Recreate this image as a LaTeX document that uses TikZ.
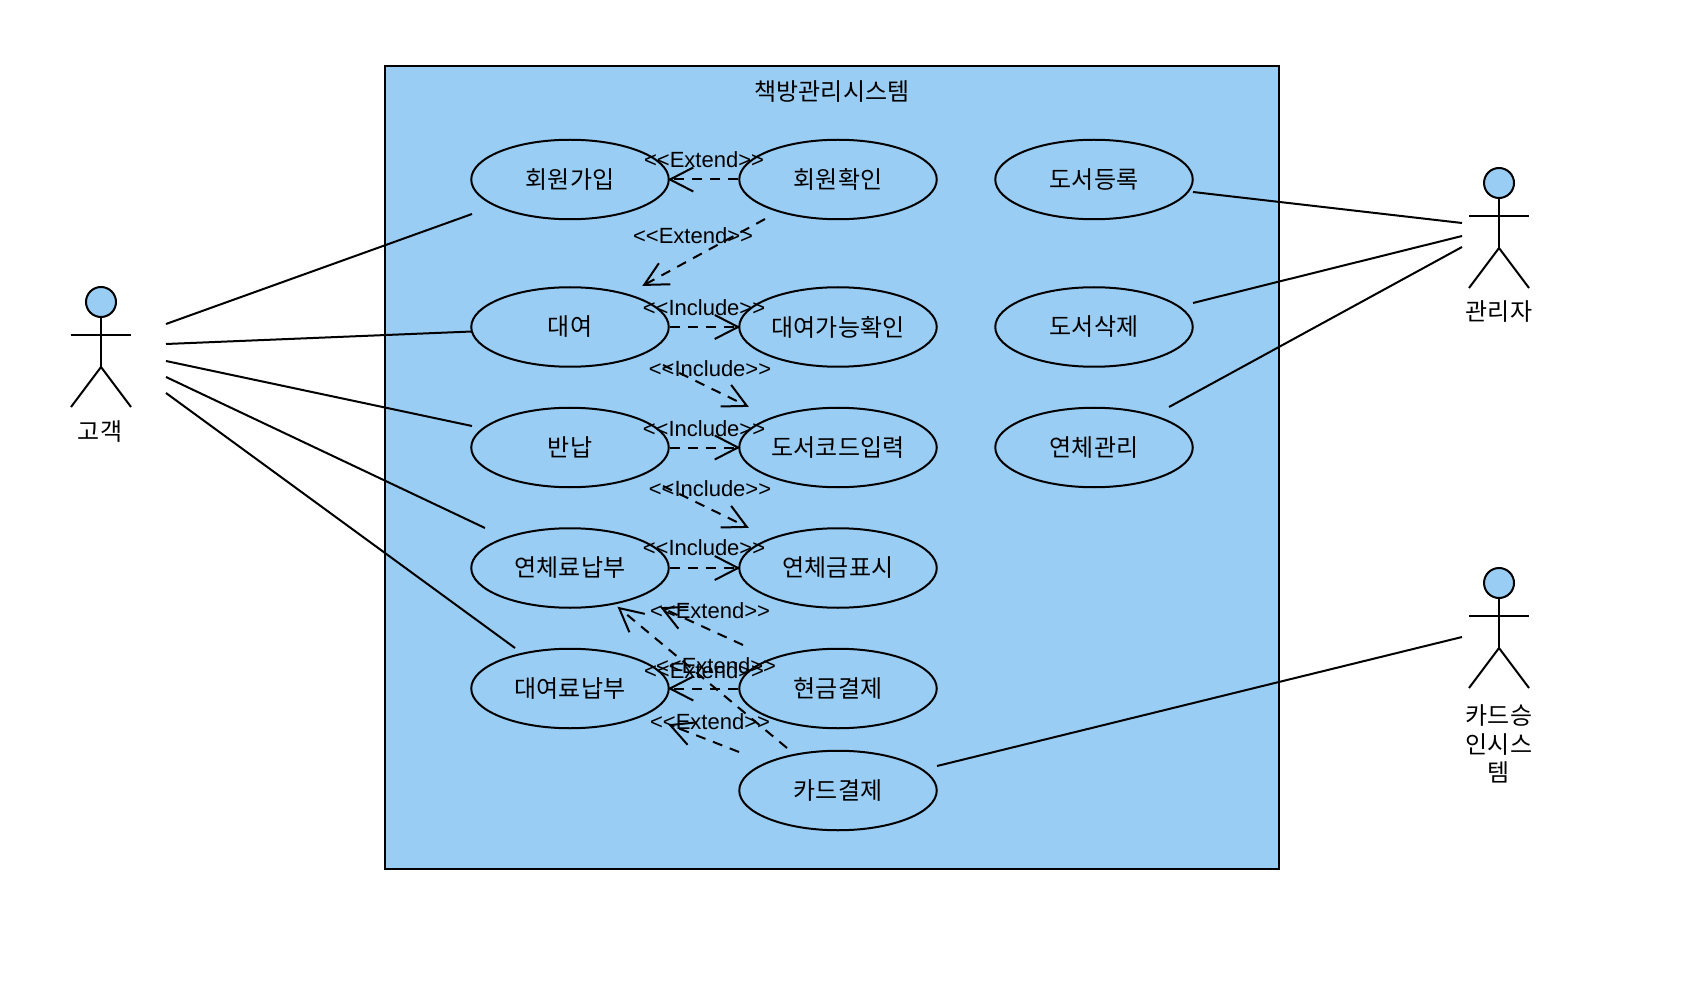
\documentclass[tikz,border=0pt]{standalone}
\usepackage{fontspec}
\setmainfont{Liberation Sans}
\newfontfamily\kr{Noto Sans CJK KR}
\usetikzlibrary{shapes.geometric,arrows.meta}
\definecolor{fillblue}{HTML}{9ACDF3}
\tikzset{
  uc/.style={ellipse,draw=black,fill=fillblue,line width=1.5pt,minimum width=197.5\pxu,minimum height=79.5\pxu,inner sep=0pt,font=\kr\fontsize{18pt}{20pt}\selectfont},
  sys/.style={draw=black,fill=fillblue,line width=1.5pt,inner sep=0pt},
  head/.style={circle,draw=black,fill=fillblue,line width=1.5pt,minimum size=30\pxu,inner sep=0pt},
  stick/.style={draw=black,line width=1.5pt},
  assoc/.style={draw=black,line width=1.5pt},
  rel/.style={draw=black,line width=1.5pt,dash pattern=on 7.5pt off 6pt,shorten >=-1.5pt,-{Straight Barb[length=17.5pt,width=18pt,line width=1.5pt]}},
  lab/.style={inner sep=0pt,font=\fontsize{16.5pt}{20pt}\selectfont},
  krlab/.style={inner sep=0pt,align=center,font=\kr\fontsize{18pt}{20pt}\selectfont},
}
\newcommand{\pxu}{*0.75pt}
\newcommand{\actor}[3]{% name, x, head y
  \node[head] (#1) at (#2,#3) {};
  \draw[stick] (#1.south) -- (#2,#3+65) coordinate (#1hip);
  \draw[stick] (#2-30,#3+33) -- (#2+30,#3+33);
  \draw[stick] (#2-30,#3+105) -- (#1hip) -- (#2+30,#3+105);
}
\begin{document}
\begin{tikzpicture}[x=0.75pt,y=-0.75pt]
\useasboundingbox (0,0) rectangle (1708,994);
\node[sys,anchor=north west,minimum width=894\pxu,minimum height=802\pxu] (sysbox) at (384,65.5) {};
\node[krlab] (title) at (832,92) {책방관리시스템};

\node[uc] (join)  at (570,179.5) {회원가입};
\node[uc] (rent)  at (570,327) {대여};
\node[uc] (ret)   at (570,447.5) {반납};
\node[uc] (late)  at (570,568) {연체료납부};
\node[uc] (fee)   at (570,688.5) {대여료납부};
\node[uc] (check) at (838,179.5) {회원확인};
\node[uc] (avail) at (838,327) {대여가능확인};
\node[uc] (code)  at (838,447.5) {도서코드입력};
\node[uc] (show)  at (838,568) {연체금표시};
\node[uc] (cash)  at (838,688.5) {현금결제};
\node[uc] (card)  at (838,790.5) {카드결제};
\node[uc] (bkadd) at (1094,179.5) {도서등록};
\node[uc] (bkdel) at (1094,327) {도서삭제};
\node[uc] (ovr)   at (1094,447.5) {연체관리};

\actor{cust}{101}{302}
\actor{admin}{1499}{183}
\actor{cardsys}{1499}{583}
\node[krlab] (custl) at (100,432) {고객};
\node[krlab] (adminl) at (1499,312) {관리자};
\node[krlab,font=\kr\fontsize{18pt}{21.6pt}\selectfont] (cardl) at (1499,744) {카드승\\인시스\\템};

% free ends
\coordinate (c1) at (166,324); \coordinate (c1e) at (472,214);
\coordinate (c2) at (166,344); \coordinate (c2e) at (472,331.5);
\coordinate (c3) at (166,361); \coordinate (c3e) at (472,426);
\coordinate (c4) at (166,377); \coordinate (c4e) at (485,528);
\coordinate (c5) at (166,393); \coordinate (c5e) at (515,648);
\coordinate (a1) at (1462,223); \coordinate (a1e) at (1193,192);
\coordinate (a2) at (1462,236); \coordinate (a2e) at (1193,303);
\coordinate (a3) at (1462,247); \coordinate (a3e) at (1169,407);
\coordinate (k1) at (1462,637); \coordinate (k1e) at (937,766);
\draw[assoc] (c1) -- (c1e);
\draw[assoc] (c2) -- (c2e);
\draw[assoc] (c3) -- (c3e);
\draw[assoc] (c4) -- (c4e);
\draw[assoc] (c5) -- (c5e);
\draw[assoc] (a1) -- (a1e);
\draw[assoc] (a2) -- (a2e);
\draw[assoc] (a3) -- (a3e);
\draw[assoc] (k1) -- (k1e);

% dashed relations
\coordinate (r2s) at (765,219); \coordinate (r2e) at (644,285);
\coordinate (i2s) at (663,365); \coordinate (i2e) at (747,406);
\coordinate (i4s) at (663,486); \coordinate (i4e) at (747,527);
\coordinate (xas) at (743,645); \coordinate (xae) at (662,608);
\coordinate (xbs) at (787,748); \coordinate (xbe) at (619,608);
\coordinate (xds) at (739,752); \coordinate (xde) at (670,725);
\draw[rel] (check.west) -- (join.east);
\draw[rel] (r2s) -- (r2e);
\draw[rel] (rent.east) -- (avail.west);
\draw[rel] (i2s) -- (i2e);
\draw[rel] (ret.east) -- (code.west);
\draw[rel] (i4s) -- (i4e);
\draw[rel] (late.east) -- (show.west);
\draw[rel] (xas) -- (xae);
\draw[rel] (xbs) -- (xbe);
\draw[rel] (cash.west) -- (fee.east);
\draw[rel] (xds) -- (xde);

\node[lab] (l1) at (704,159.5) {<{}<Extend>{}>};
\node[lab] (l2) at (693,235.5) {<{}<Extend>{}>};
\node[lab] (l3) at (704,308) {<{}<Include>{}>};
\node[lab] (l4) at (710,369) {<{}<Include>{}>};
\node[lab] (l5) at (704,428.5) {<{}<Include>{}>};
\node[lab] (l6) at (710,489) {<{}<Include>{}>};
\node[lab] (l7) at (704,548) {<{}<Include>{}>};
\node[lab] (l8) at (710,610.5) {<{}<Extend>{}>};
\node[lab] (l9) at (716,665.5) {<{}<Extend>{}>};
\node[lab] (l10) at (704,670.5) {<{}<Extend>{}>};
\node[lab] (l11) at (710,721.5) {<{}<Extend>{}>};
\end{tikzpicture}
\end{document}
